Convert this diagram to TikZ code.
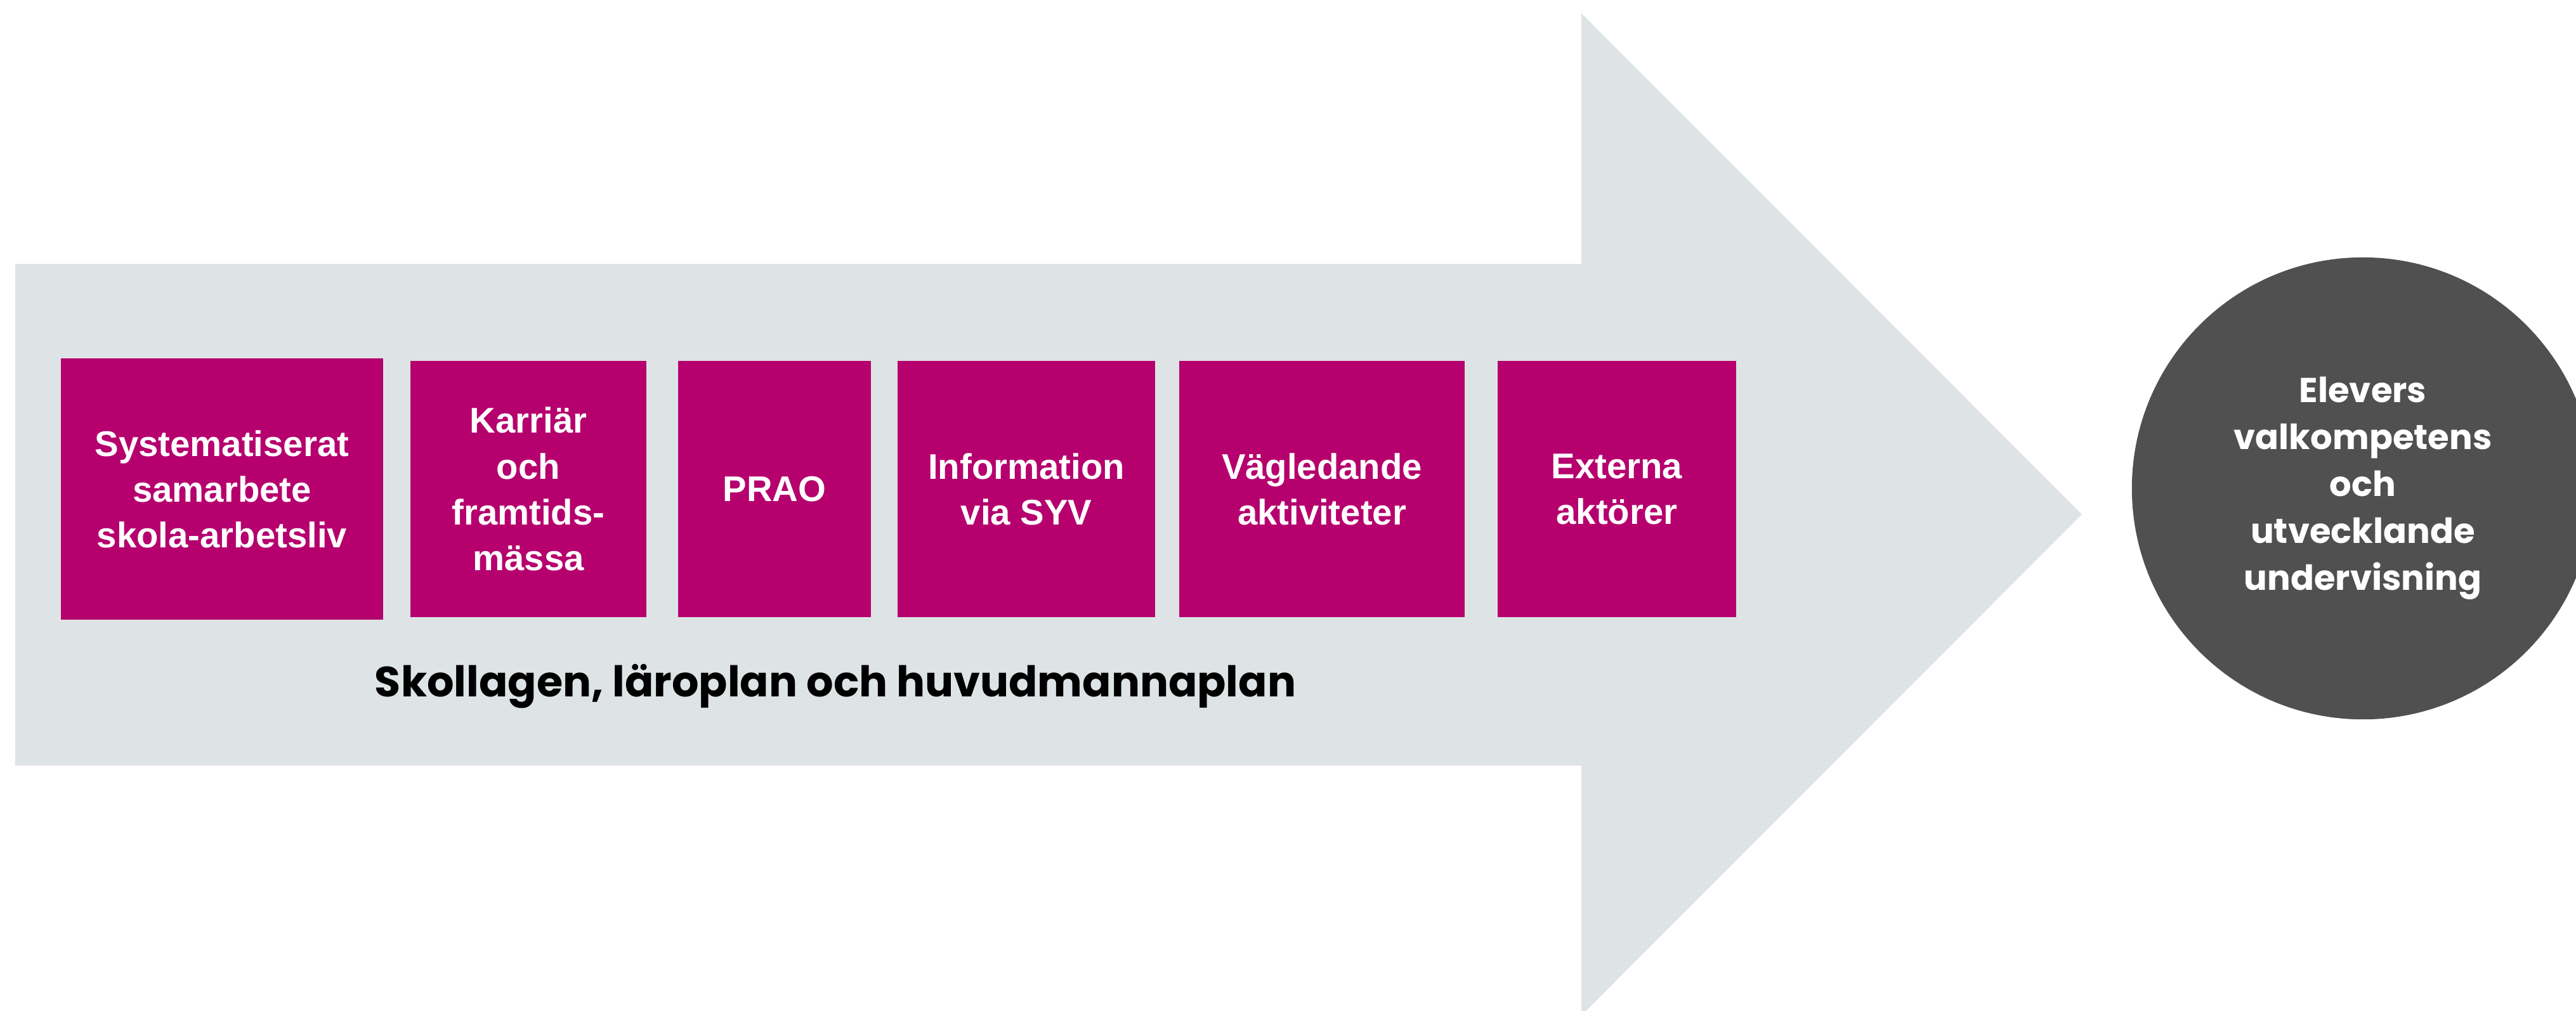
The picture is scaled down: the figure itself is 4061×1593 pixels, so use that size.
\documentclass[tikz,border=0pt]{standalone}
\usepackage{fontspec}
\setmainfont{Liberation Sans}
\newfontfamily\ralefont{Poppins}
\usepackage{tikz}

\definecolor{arrowgrey}{HTML}{DEE4E5}
\definecolor{boxmag}{HTML}{B5006E}
\definecolor{circgrey}{HTML}{505050}

\tikzset{
  magbox/.style={fill=boxmag, text=white, align=center, inner sep=0pt,
    minimum height=4.03cm, font=\fontsize{16}{20.5}\selectfont\bfseries},
}

\begin{document}
\begin{tikzpicture}[x=0.01cm,y=-0.01cm]
    \useasboundingbox (0,0) rectangle (4061,1593);
    \fill[arrowgrey] (24,416) -- (2493,416) -- (2493,21) -- (3282,811)
    -- (2493,1601) -- (2493,1207) -- (24,1207) -- cycle;

    \node[magbox, minimum width=5.08cm, minimum height=4.12cm] (sys) at (350,771)
    {Systematiserat\\samarbete\\skola-arbetsliv};
    \node[magbox, minimum width=3.72cm] (karr) at (833,771)
    {Karriär\\och\\framtids-\\mässa};
    \node[magbox, minimum width=3.03cm] (prao) at (1221,771) {PRAO};
    \node[magbox, minimum width=4.06cm] (info) at (1618,771)
    {Information\\via SYV};
    \node[magbox, minimum width=4.49cm] (vagl) at (2084,771)
    {Vägledande\\aktiviteter};
    \node[magbox, minimum width=3.76cm] (ext) at (2549,771)
    {Externa\\aktörer};

    \node[anchor=base, font=\ralefont\fontsize{19}{23}\selectfont\bfseries] (lag)
    at (1317,1098) {Skollagen, läroplan och huvudmannaplan};

    \node[circle, fill=circgrey, minimum size=7.28cm, inner sep=0pt, text=white,
    align=center, font=\ralefont\fontsize{15.5}{21}\selectfont\bfseries] (elev)
    at (3725,770) {Elevers\\valkompetens\\och\\utvecklande\\undervisning};
  \end{tikzpicture}
\end{document}
